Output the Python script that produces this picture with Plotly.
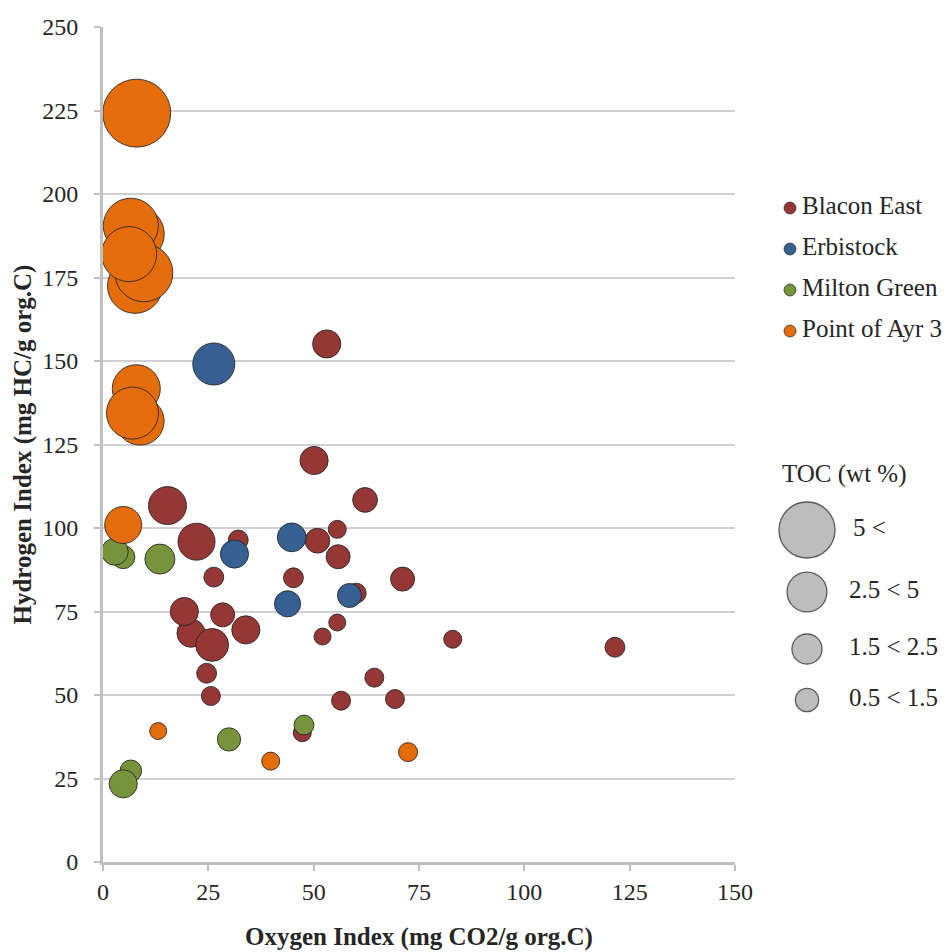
import plotly.graph_objects as go

# ---------------- data ----------------
series_names = ["Blacon East", "Erbistock", "Milton Green", "Point of Ayr 3"]

blacon_oi = [20.9, 19.3, 25.9, 53.1, 50.1, 62.2, 15.3, 22.2, 32.1, 50.9, 55.6, 55.8, 26.3, 45.2,
             71.1, 60.1, 28.4, 33.9, 55.6, 52.1, 83.0, 121.5, 24.6, 25.6, 64.4, 56.5, 69.3, 47.3]
blacon_hi = [68.5, 75.0, 65.0, 155.1, 120.2, 108.4, 106.7, 95.9, 96.4, 96.2, 99.6, 91.4, 85.3, 85.1,
             84.7, 80.5, 74.0, 69.5, 71.7, 67.5, 66.7, 64.3, 56.5, 49.7, 55.2, 48.3, 48.8, 38.7]
blacon_toc = [2.2, 2.2, 3.0, 2.2, 2.2, 1.7, 4.0, 3.8, 1.1, 1.7, 0.9, 1.6, 1.1, 1.1,
              1.6, 1.1, 1.6, 2.2, 0.8, 0.8, 0.9, 1.1, 1.1, 1.0, 1.0, 1.0, 1.0, 0.9]

erbistock_oi = [26.3, 31.2, 44.8, 43.8, 58.5]
erbistock_hi = [149.1, 92.2, 97.2, 77.3, 79.8]
erbistock_toc = [4.9, 2.2, 2.3, 1.9, 1.6]

milton_oi = [4.8, 2.8, 13.5, 29.9, 47.7, 6.6, 4.8]
milton_hi = [91.3, 92.9, 90.7, 36.7, 41.0, 27.3, 23.4]
milton_toc = [1.5, 2.0, 2.5, 1.5, 1.1, 1.3, 2.2]

ayr_oi = [8.0, 8.0, 6.6, 7.6, 9.7, 6.2, 7.9, 8.8, 7.0, 4.8, 13.1, 39.8, 72.4]
ayr_hi = [224.2, 188.0, 190.5, 172.5, 176.4, 182.0, 141.7, 132.0, 134.4, 100.9, 39.2, 30.2, 32.9]
ayr_toc = [12.8, 8.4, 8.4, 8.4, 9.3, 8.4, 6.4, 6.4, 7.5, 3.8, 0.8, 0.9, 1.0]

toc_legend_labels = ["5 <", "2.5 < 5", "1.5 < 2.5", "0.5 < 1.5"]
toc_legend_values = [8.7, 4.4, 2.5, 1.5]

x_ticks = [0, 25, 50, 75, 100, 125, 150]
y_ticks = [0, 25, 50, 75, 100, 125, 150, 175, 200, 225, 250]

# ---------------- styling ----------------
colors = ["#953735", "#376092", "#77933C", "#E46C0A"]
FONT = "Liberation Serif"
TXT = "#262626"
SIZEREF = 2.0 / 19.0 ** 2  # diameter = 19 px * sqrt(TOC)
W, H = 950, 952
ML, MT, MB = 103, 27, 90
PW = W - ML  # plotting width (r margin = 0)
PH = H - MT - MB
MAIN_W = 632
TICK_FS = 24
TITLE_FS = 25
LEG_FS = 25

fig = go.Figure()

data = [(blacon_oi, blacon_hi, blacon_toc), (erbistock_oi, erbistock_hi, erbistock_toc),
        (milton_oi, milton_hi, milton_toc), (ayr_oi, ayr_hi, ayr_toc)]
for name, (xs, ys, ts), c in zip(series_names, data, colors):
    fig.add_trace(go.Scatter(
        x=xs, y=ys, mode="markers", name=name, showlegend=False,
        marker=dict(size=ts, sizemode="area", sizeref=SIZEREF, color=c,
                    line=dict(width=1, color="rgba(35,35,35,0.85)"), opacity=1),
        cliponaxis=False, hoverinfo="x+y+name"))

# ---------------- custom legends on an overlay axis (pixel units) ----------------
x0_leg = ML + MAIN_W
leg_marker_x = 790
leg_text_x = 802
leg_y = [208, 249, 290, 331]
fig.add_trace(go.Scatter(
    x=[leg_marker_x] * 4, y=leg_y, mode="markers", xaxis="x2", yaxis="y2", showlegend=False,
    marker=dict(size=12, color=colors, opacity=1, line=dict(width=1, color="rgba(35,35,35,0.7)")),
    hoverinfo="skip"))
fig.add_trace(go.Scatter(
    x=[leg_text_x] * 4, y=leg_y, mode="text", text=series_names, textposition="middle right",
    xaxis="x2", yaxis="y2", showlegend=False,
    textfont=dict(family=FONT, size=LEG_FS, color=TXT), hoverinfo="skip"))

toc_y = [530, 592, 649, 700]
fig.add_trace(go.Scatter(
    x=[807] * 4, y=toc_y, mode="markers", xaxis="x2", yaxis="y2", showlegend=False,
    marker=dict(size=toc_legend_values, sizemode="area", sizeref=SIZEREF, color="#BDBDBD",
                opacity=1, line=dict(width=1.3, color="#595959")),
    hoverinfo="skip"))
fig.add_trace(go.Scatter(
    x=[853, 849, 849, 849], y=toc_y, mode="text", text=toc_legend_labels, textposition="middle right",
    xaxis="x2", yaxis="y2", showlegend=False,
    textfont=dict(family=FONT, size=LEG_FS, color=TXT), hoverinfo="skip"))
fig.add_trace(go.Scatter(
    x=[782], y=[476], mode="text", text=["TOC (wt %)"], textposition="middle right",
    xaxis="x2", yaxis="y2", showlegend=False,
    textfont=dict(family=FONT, size=LEG_FS, color=TXT), hoverinfo="skip"))

axis_line = "#BFBFBF"
fig.update_layout(
    template="none",
    width=W, height=H, autosize=False,
    margin=dict(l=ML, r=0, t=MT, b=MB, pad=0, autoexpand=False),
    plot_bgcolor="white", paper_bgcolor="white",
    showlegend=False,
    font=dict(family=FONT, size=TICK_FS, color=TXT),
    xaxis=dict(domain=[0, MAIN_W / PW], range=[0, 150], tickvals=x_ticks, automargin=False,
               showgrid=False, zeroline=False, showline=True, linecolor=axis_line, linewidth=3,
               ticks="outside", ticklen=6, tickwidth=1.5, tickcolor=axis_line,
               tickfont=dict(family=FONT, size=TICK_FS, color=TXT), ticklabelstandoff=0,
               fixedrange=True),
    yaxis=dict(domain=[0, 1], range=[0, 250], tickvals=y_ticks, automargin=False,
               showgrid=True, gridcolor="#D0D0D0", gridwidth=2,
               zeroline=False, showline=True, linecolor=axis_line, linewidth=3,
               ticks="outside", ticklen=6, tickwidth=1.5, tickcolor=axis_line,
               tickfont=dict(family=FONT, size=TICK_FS, color=TXT), ticklabelstandoff=11,
               fixedrange=True),
    xaxis2=dict(domain=[MAIN_W / PW, 1], range=[x0_leg, W], anchor="y2", visible=False,
                automargin=False, fixedrange=True),
    yaxis2=dict(domain=[0, 1], range=[MT + PH, MT], anchor="x2", visible=False,
                automargin=False, fixedrange=True),
    annotations=[
        dict(text="<b>Oxygen Index (mg CO2/g org.C)</b>", xref="paper", yref="paper",
             x=(MAIN_W / 2) / PW, y=(862 - 937) / PH, xanchor="center", yanchor="middle",
             showarrow=False, font=dict(family=FONT, size=TITLE_FS, color=TXT)),
        dict(text="<b>Hydrogen Index (mg HC/g org.C)</b>", xref="paper", yref="paper",
             x=(22 - ML) / PW, y=0.5, xanchor="center", yanchor="middle", textangle=-90,
             showarrow=False, font=dict(family=FONT, size=TITLE_FS, color=TXT)),
    ],
)

fig.write_html(
    "out.html",
    config={"responsive": False, "displayModeBar": False},
    post_script="document.documentElement.style.overflow='hidden';"
                "document.body.style.margin='0px';document.body.style.overflow='hidden';",
)
